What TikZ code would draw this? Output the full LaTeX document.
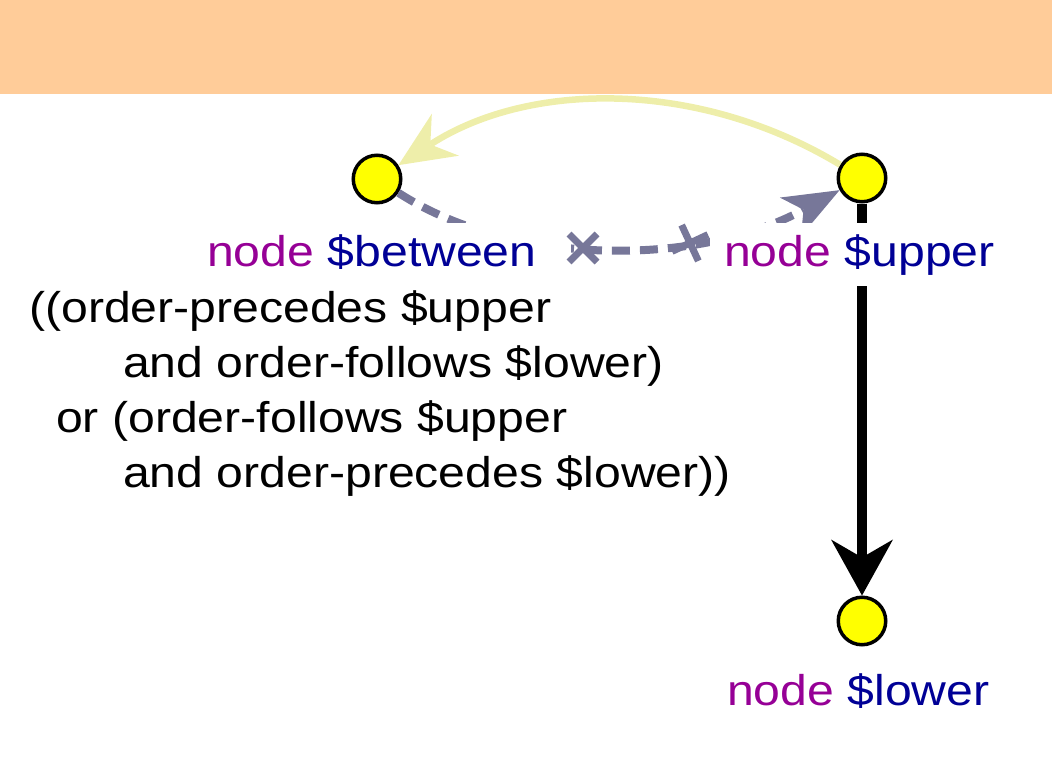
\documentclass[tikz,border=0pt]{standalone}
\usepackage{fontspec}
\setmainfont[FakeStretch=1.12]{Liberation Sans}
\usetikzlibrary{arrows.meta,shapes.misc}
\definecolor{headbg}{RGB}{255,204,153}
\definecolor{kwpurple}{RGB}{150,0,150}
\definecolor{varblue}{RGB}{0,0,150}
\definecolor{edgegray}{RGB}{119,119,153}
\definecolor{edgeyellow}{RGB}{238,238,170}
\definecolor{nodeyellow}{RGB}{255,255,0}
\begin{document}
\begin{tikzpicture}[x=1pt,y=-1pt,
  vertex/.style={circle,draw=black,line width=3.5pt,fill=nodeyellow,minimum size=47.5pt,inner sep=0pt},
  lbl/.style={fill=white,inner xsep=14pt,inner ysep=11pt,font=\fontsize{43}{55}\selectfont,anchor=base west},
  condtxt/.style={inner sep=0pt,font=\fontsize{43}{55}\selectfont,anchor=base west,text=black},
  grayedge/.style={draw=edgegray,line width=8pt,dash pattern=on 18pt off 10pt,
    -{Stealth[length=56pt,width=44pt,inset=15pt,line width=0pt]}},
  blackedge/.style={draw=black,line width=10pt,
    -{Stealth[length=56pt,width=62pt,inset=18pt,line width=0pt]}},
  yellowedge/.style={draw=edgeyellow,line width=6.5pt,
    -{Stealth[length=56pt,width=50pt,inset=18pt,line width=0pt]}},
  crossmark/.style={cross out,draw=edgegray,line width=7pt,minimum size=21pt,inner sep=0pt}
]
\useasboundingbox (0,0) rectangle (1052,776);
\fill[headbg] (0,0) rectangle (1052,94);

% vertices
\node[vertex] (between) at (377,179) {};
\node[vertex] (upper) at (862,178) {};
\node[vertex] (lower) at (862,621) {};

% connectors
\draw[grayedge] (between) .. controls (515,268) and (700,266) .. (upper);
\draw[blackedge] (upper) -- (lower);

% labels (white boxes cover the connectors)
\node[lbl] (lblbetween) at (193,266) {\textcolor{kwpurple}{node} \textcolor{varblue}{\$between}\hspace*{20pt}};
\node[lbl] (lblupper) at (710,266) {\textcolor{kwpurple}{node} \textcolor{varblue}{\$upper}};
\node[lbl] (lbllower) at (713,705) {\textcolor{kwpurple}{node} \textcolor{varblue}{\$lower}};

% crosses on the dashed connector
\node[crossmark] (xa) at (583,248) {};
\node[crossmark,rotate=-20] (xb) at (690,243) {};

% yellow arc
\draw[yellowedge] (upper) .. controls (700,80) and (530,80) .. (between);

% condition text
\node[condtxt] (cond1) at (29,322) {((order-precedes \$upper};
\node[condtxt] (cond2) at (123,377) {and order-follows \$lower)};
\node[condtxt] (cond3) at (56,432) {or (order-follows \$upper};
\node[condtxt] (cond4) at (123,487) {and order-precedes \$lower))};
\end{tikzpicture}
\end{document}
